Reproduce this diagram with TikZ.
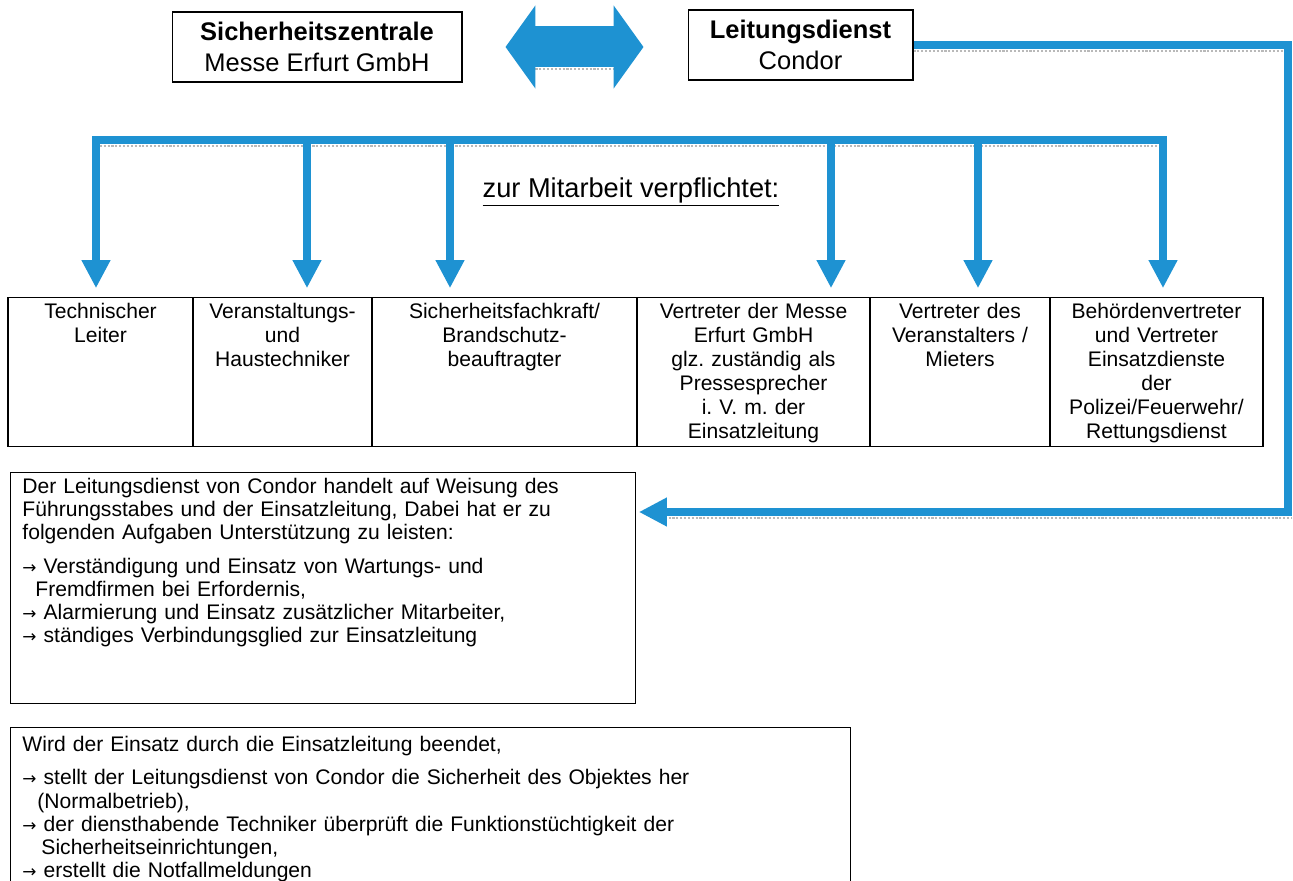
\documentclass[tikz,border=0pt]{standalone}
\usepackage{fontspec}
\setmainfont{Liberation Sans}
\newfontfamily\pfeilfont{DejaVu Sans}[Scale=0.8]
\newcommand{\pfeil}{{\pfeilfont →}}
\frenchspacing
\usetikzlibrary{arrows.meta}
\definecolor{flowblue}{RGB}{30,146,210}

\begin{document}
\begin{tikzpicture}[x=0.02cm,y=-0.02cm,
  flow/.style={draw=flowblue,line width=5pt,line join=miter},
  flowarrow/.style={flow,-{Triangle[width=15.4pt,length=16pt]}},
  schatten/.style={draw=gray!55,line width=1.2pt,densely dotted},
  headbox/.style={draw,line width=0.6pt,minimum height=1.4cm,align=center,font=\fontsize{14.5}{18}\selectfont},
  cell/.style={draw,line width=0.6pt,anchor=north,align=center,inner xsep=0pt,inner ysep=3pt,text height=8.7pt,text depth=70.1pt,font=\fontsize{12}{13.7}\selectfont},
  infobox/.style={draw,line width=0.6pt,anchor=north west,align=left,inner xsep=6.8pt,inner ysep=3pt,text height=8.7pt,font=\fontsize{12}{13.1}\selectfont}]
\useasboundingbox (0,0) rectangle (1293,881);
\clip (0,0) rectangle (1293,881);

%%% top
\node[headbox,minimum width=5.8cm] (zentrale) at (317,47) {\textbf{Sicherheitszentrale}\\Messe Erfurt GmbH};
\node[headbox,minimum width=4.5cm] (leitung) at (800.5,45) {\textbf{Leitungsdienst}\\Condor};
\draw[schatten] ([xshift=1.46cm,yshift=-12.6pt]zentrale.east) -- ([xshift=-1.48cm,yshift=-12.6pt]zentrale.east -| leitung.west);
\draw[draw=flowblue,line width=0.82cm,{Triangle[width=1.64cm,length=0.6cm]}-{Triangle[width=1.64cm,length=0.6cm]},shorten <=0.86cm,shorten >=0.88cm] (zentrale.east) -- (zentrale.east -| leitung.west);

\node[font=\fontsize{15.5}{18}\selectfont] (mitarbeit) at (631,192) {\underline{zur Mitarbeit verpflichtet:}};

%%% table
\node[cell,text width=3.7cm] (techn) at (100.5,297) {Technischer\\Leiter};
\node[cell,text width=3.58cm] (haus) at (282.5,297) {Veranstaltungs-\\und\\Haustechniker};
\node[cell,text width=5.3cm] (sifa) at (504.5,297) {Sicherheitsfachkraft/\\Brandschutz-\\beauftragter};
\node[cell,text width=4.66cm] (messe) at (753.5,297) {Vertreter der Messe\\Erfurt GmbH\\glz. zuständig als\\Pressesprecher\\i. V. m. der\\Einsatzleitung};
\node[cell,text width=3.6cm] (mieter) at (960,297) {Vertreter des\\Veranstalters /\\Mieters};
\node[cell,text width=4.26cm] (behoerde) at (1156.5,297) {Behördenvertreter\\und Vertreter\\Einsatzdienste\\der\\Polizei/Feuerwehr/\\Rettungsdienst};

\foreach \x/\c in {96/techn,307/haus,450/sifa,831/messe,978/mieter,1163/behoerde}
  \coordinate (bus\c) at (\x,140);
\draw[schatten] ([yshift=-3.4pt]bustechn) -- ([yshift=-3.4pt]busbehoerde);
\foreach \c in {techn,haus,sifa,messe,mieter,behoerde}
  \draw[flowarrow,shorten >=5pt] (bus\c) -- (bus\c |- \c.north);
\draw[flow,line cap=rect] (bustechn) -- (busbehoerde);

%%% text boxes
\node[infobox,text width=12.02cm,text depth=116.7pt] (aufgaben) at (10,472) {Der Leitungsdienst von Condor handelt auf Weisung des\\
Führungsstabes und der Einsatzleitung, Dabei hat er zu\\
folgenden Aufgaben Unterstützung zu leisten:\\[6.6pt]
\pfeil\ Verständigung und Einsatz von Wartungs- und\\
\hspace*{0.26cm}Fremdfirmen bei Erfordernis,\\
\pfeil\ Alarmierung und Einsatz zusätzlicher Mitarbeiter,\\
\pfeil\ ständiges Verbindungsglied zur Einsatzleitung};

\node[infobox,text width=16.32cm,text height=10.9pt,text depth=80pt] (ende) at (10,727) {Wird der Einsatz durch die Einsatzleitung beendet,\\[5.7pt]
\pfeil\ stellt der Leitungsdienst von Condor die Sicherheit des Objektes her\\
\hspace*{0.3cm}(Normalbetrieb),\\
\pfeil\ der diensthabende Techniker überprüft die Funktionstüchtigkeit der\\
\hspace*{0.38cm}Sicherheitseinrichtungen,\\
\pfeil\ erstellt die Notfallmeldungen};

\coordinate (ecke1) at (1288,45);
\coordinate (ecke2) at (1288,512);
\draw[schatten] ([yshift=-3.4pt]leitung.east) -- ([xshift=-2.5pt,yshift=-3.4pt]ecke1);
\draw[schatten] ([xshift=0.5cm,yshift=-3.4pt]aufgaben.east |- ecke2) -- ([xshift=2.5pt,yshift=-3.4pt]ecke2);
\draw[flowarrow,shorten >=1.7pt] (leitung.east) -- (ecke1) -- (ecke2) -- (aufgaben.east |- ecke2);

\end{tikzpicture}
\end{document}
